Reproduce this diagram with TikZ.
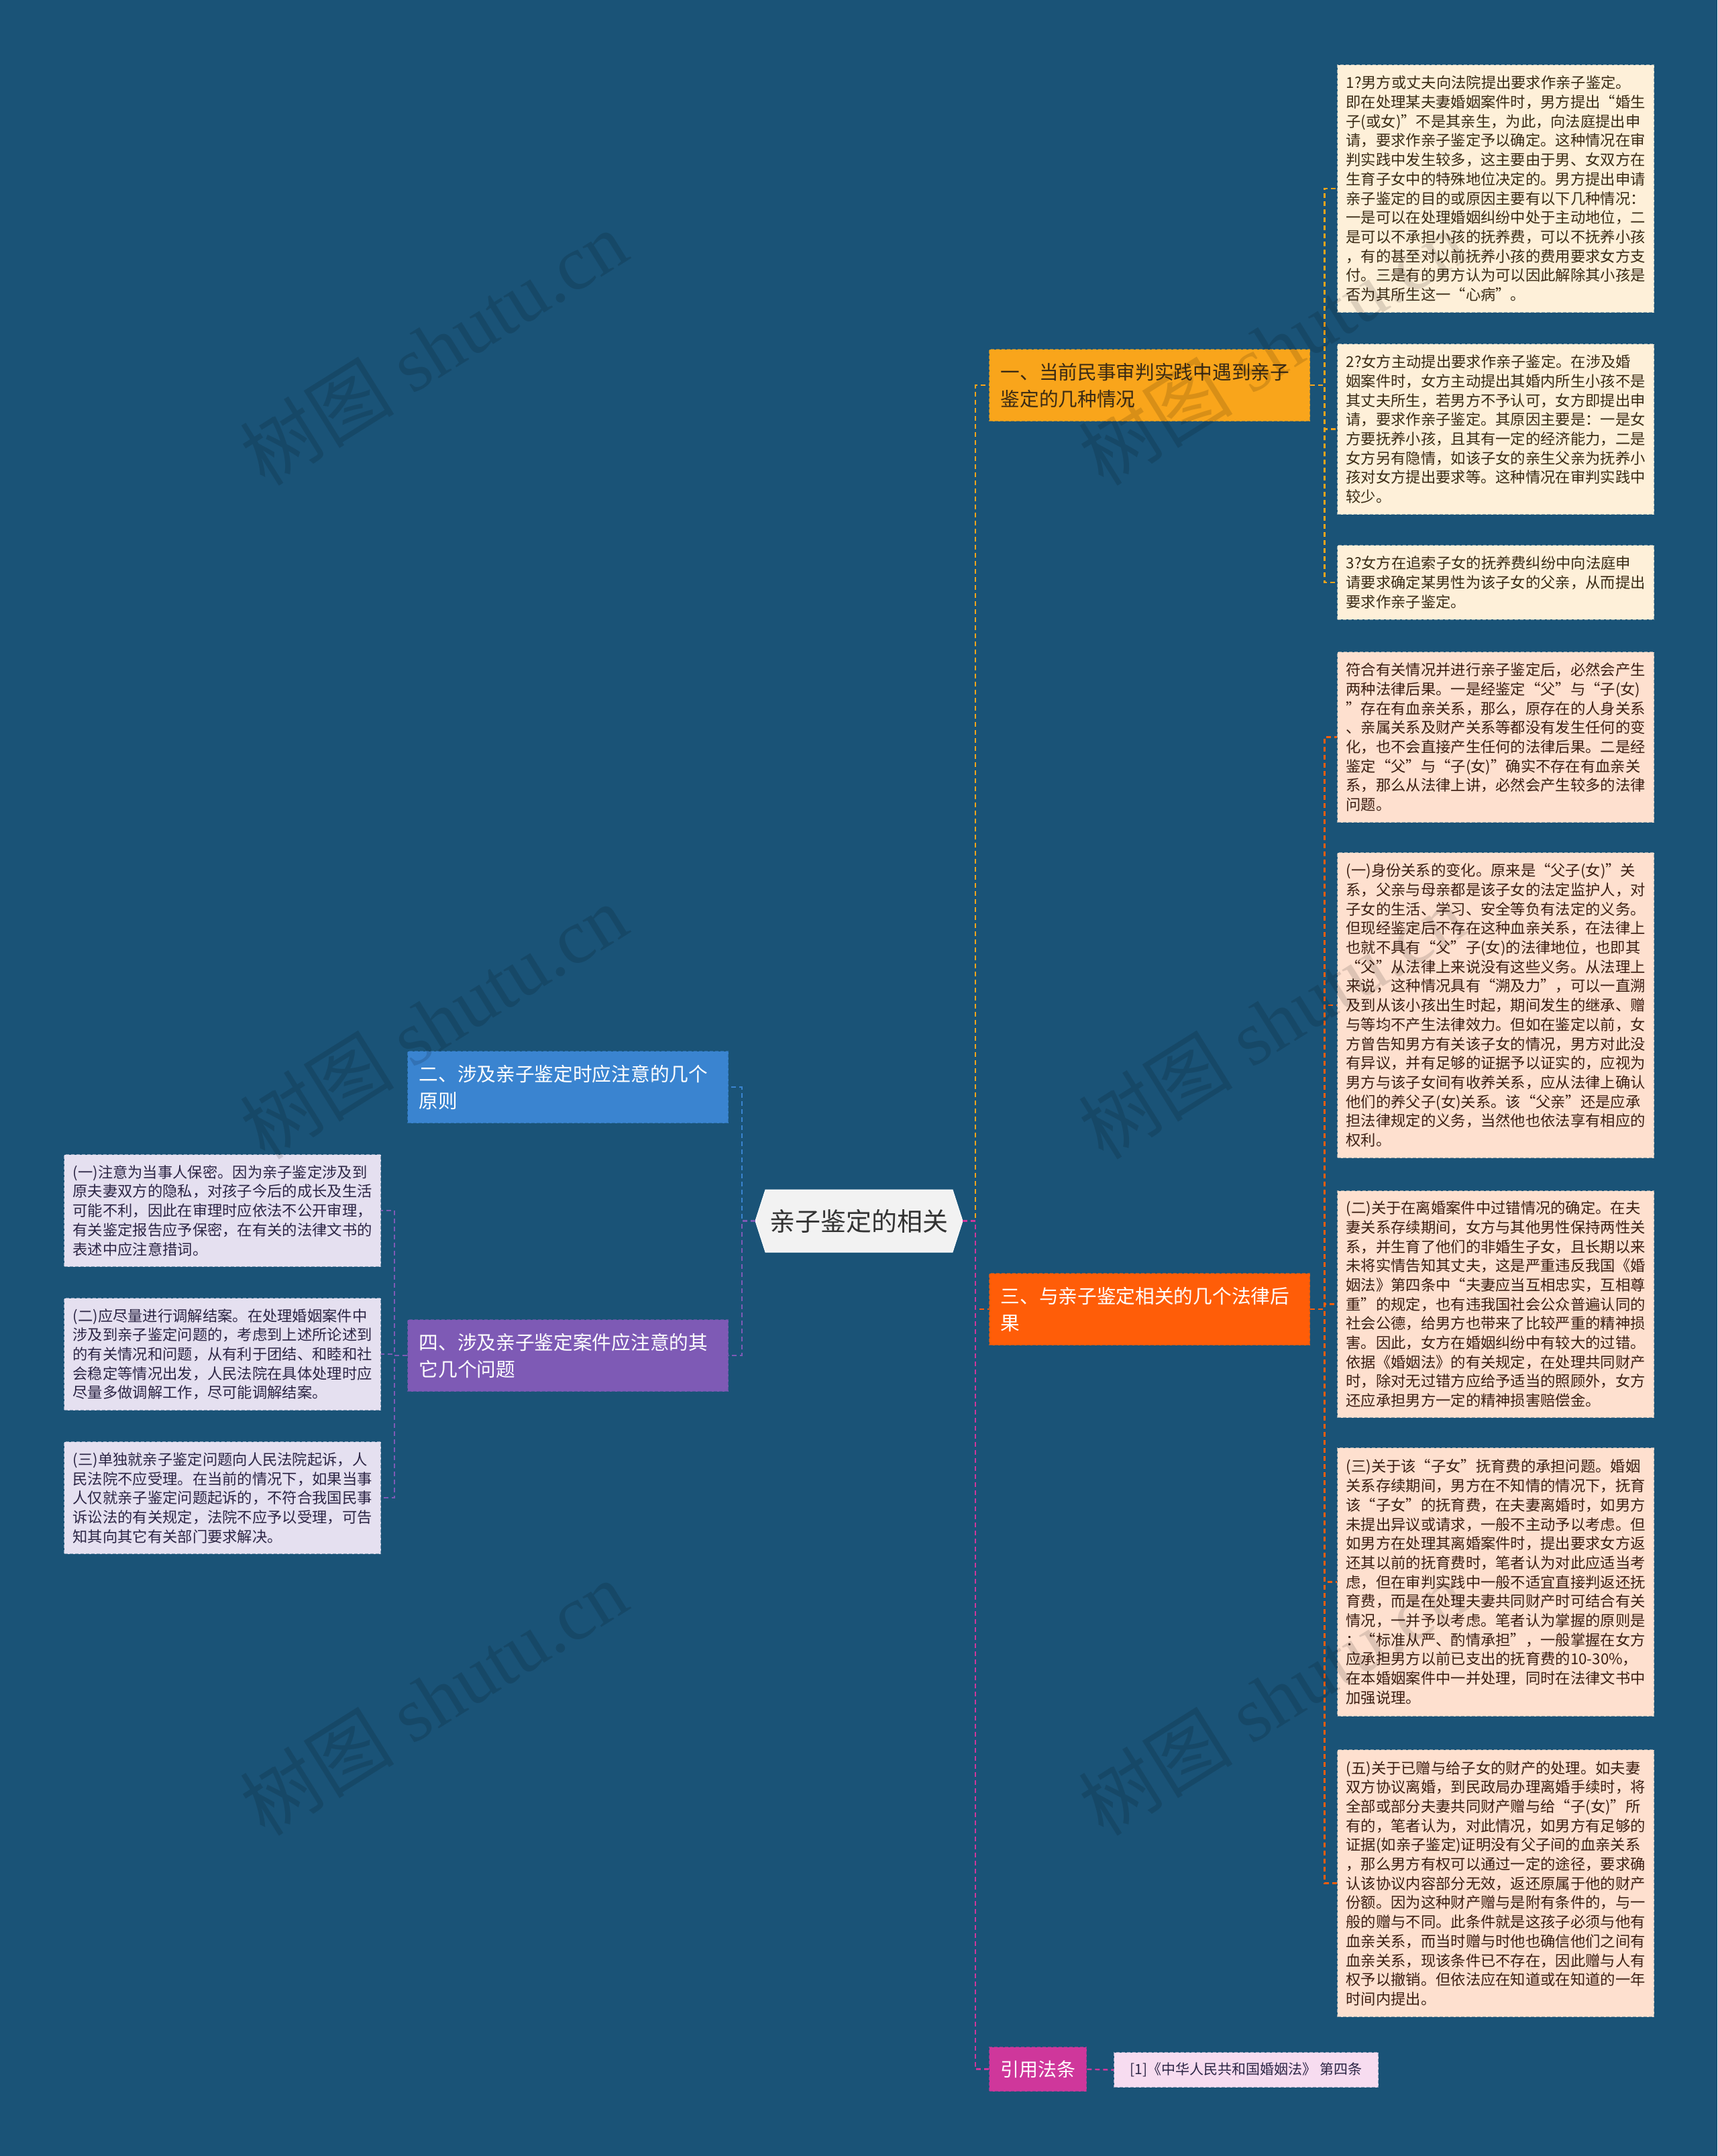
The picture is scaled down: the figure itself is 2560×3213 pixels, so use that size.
\documentclass[tikz,border=0pt]{standalone}
\usepackage{fontspec}
\setmainfont{Noto Sans CJK SC}
\newfontfamily\wmfont{Liberation Serif}
\usetikzlibrary{calc}

\definecolor{bg}{RGB}{26,83,119}
\definecolor{cOne}{RGB}{249,165,27}
\definecolor{cThree}{RGB}{255,93,8}
\definecolor{cTwo}{RGB}{58,132,208}
\definecolor{cFour}{RGB}{126,90,181}
\definecolor{cRef}{RGB}{207,55,155}
\definecolor{lfA}{RGB}{254,240,217}
\definecolor{lfB}{RGB}{254,224,207}
\definecolor{lfC}{RGB}{229,224,240}
\definecolor{lfD}{RGB}{247,220,240}
\definecolor{txA}{RGB}{58,42,20}
\definecolor{txB}{RGB}{60,30,18}
\definecolor{txC}{RGB}{44,37,69}
\definecolor{hexfill}{RGB}{242,242,242}

\tikzset{
  boxbase/.style={rectangle, anchor=north west, inner ysep=0pt, line width=1.3pt, dash pattern=on 5pt off 3pt},
  leafbase/.style={boxbase, inner xsep=13pt, text width=446pt, align=left, font=\fontsize{22.3}{28.7}\selectfont},
  leafA/.style={leafbase, fill=lfA, draw=lfA!55!bg, text=txA},
  leafB/.style={leafbase, fill=lfB, draw=lfB!55!bg, text=txB},
  leafC/.style={leafbase, fill=lfC, draw=lfC!55!bg, text=txC},
  branchbox/.style={boxbase, inner xsep=17pt, text width=444pt, align=left, minimum height=107pt, font=\fontsize{28.7}{40}\selectfont},
  conn/.style={line width=2.4pt, dash pattern=on 7pt off 5pt},
  wm/.style={font=\fontsize{115}{115}\selectfont, text=black, opacity=0.13, rotate=32},
}

\begin{document}
\begin{tikzpicture}[x=1pt,y=-1pt]
\useasboundingbox[fill=bg] (0,0) rectangle (2560,3213);

% centre hexagon
\fill[hexfill, draw=white, line width=1pt] (1126,1819.5) -- (1141,1773) -- (1420,1773) -- (1435,1819.5) -- (1420,1866) -- (1141,1866) -- cycle;
\node[font=\fontsize{38}{44}\selectfont, text=black!80, minimum width=309pt, minimum height=93pt, inner sep=0pt] (c) at (1280.5,1819.5) {亲子鉴定的相关};

% main branches
\node[branchbox, fill=cOne, draw=cOne!60!bg, text=txA] (b1) at (1474,520) {一、当前民事审判实践中遇到亲子\\鉴定的几种情况};
\node[branchbox, fill=cThree, draw=cThree!60!bg, text=white] (b3) at (1474,1897) {三、与亲子鉴定相关的几个法律后\\果};
\node[branchbox, fill=cTwo, draw=cTwo!60!bg, text=white] (b2) at (607,1566) {二、涉及亲子鉴定时应注意的几个\\原则};
\node[branchbox, fill=cFour, draw=cFour!60!bg, text=white] (b4) at (607,1966) {四、涉及亲子鉴定案件应注意的其\\它几个问题};
\node[boxbase, inner xsep=0pt, fill=cRef, draw=cRef!60!bg, text=white, minimum width=145pt, minimum height=66pt, font=\fontsize{28}{32}\selectfont] (yy) at (1474,3050) {引用法条};
\node[boxbase, inner xsep=0pt, fill=lfD, draw=lfD!55!bg, text=txC, minimum width=394pt, minimum height=52pt, font=\fontsize{21}{25}\selectfont] (ref) at (1660,3058) {[1]《中华人民共和国婚姻法》 第四条};

% leaves of branch one
\node[leafA, minimum height=369pt] (l1) at (1993,96) {1?男方或丈夫向法院提出要求作亲子鉴定。\\即在处理某夫妻婚姻案件时，男方提出“婚生\\子(或女)”不是其亲生，为此，向法庭提出申\\请，要求作亲子鉴定予以确定。这种情况在审\\判实践中发生较多，这主要由于男、女双方在\\生育子女中的特殊地位决定的。男方提出申请\\亲子鉴定的目的或原因主要有以下几种情况：\\一是可以在处理婚姻纠纷中处于主动地位，二\\是可以不承担小孩的抚养费，可以不抚养小孩\\，有的甚至对以前抚养小孩的费用要求女方支\\付。三是有的男方认为可以因此解除其小孩是\\否为其所生这一“心病”。};
\node[leafA, minimum height=254pt] (l2) at (1993,512) {2?女方主动提出要求作亲子鉴定。在涉及婚\\姻案件时，女方主动提出其婚内所生小孩不是\\其丈夫所生，若男方不予认可，女方即提出申\\请，要求作亲子鉴定。其原因主要是：一是女\\方要抚养小孩，且其有一定的经济能力，二是\\女方另有隐情，如该子女的亲生父亲为抚养小\\孩对女方提出要求等。这种情况在审判实践中\\较少。};
\node[leafA, minimum height=110.7pt] (l3) at (1993,812) {3?女方在追索子女的抚养费纠纷中向法庭申\\请要求确定某男性为该子女的父亲，从而提出\\要求作亲子鉴定。};

% leaves of branch three
\node[leafB, minimum height=254pt] (l4) at (1993,971) {符合有关情况并进行亲子鉴定后，必然会产生\\两种法律后果。一是经鉴定“父”与“子(女)\\”存在有血亲关系，那么，原存在的人身关系\\、亲属关系及财产关系等都没有发生任何的变\\化，也不会直接产生任何的法律后果。二是经\\鉴定“父”与“子(女)”确实不存在有血亲关\\系，那么从法律上讲，必然会产生较多的法律\\问题。};
\node[leafB, minimum height=455pt] (l5) at (1993,1270) {(一)身份关系的变化。原来是“父子(女)”关\\系，父亲与母亲都是该子女的法定监护人，对\\子女的生活、学习、安全等负有法定的义务。\\但现经鉴定后不存在这种血亲关系，在法律上\\也就不具有“父”子(女)的法律地位，也即其\\“父”从法律上来说没有这些义务。从法理上\\来说，这种情况具有“溯及力”，可以一直溯\\及到从该小孩出生时起，期间发生的继承、赠\\与等均不产生法律效力。但如在鉴定以前，女\\方曾告知男方有关该子女的情况，男方对此没\\有异议，并有足够的证据予以证实的，应视为\\男方与该子女间有收养关系，应从法律上确认\\他们的养父子(女)关系。该“父亲”还是应承\\担法律规定的义务，当然他也依法享有相应的\\权利。};
\node[leafB, minimum height=338pt] (l6) at (1993,1774) {(二)关于在离婚案件中过错情况的确定。在夫\\妻关系存续期间，女方与其他男性保持两性关\\系，并生育了他们的非婚生子女，且长期以来\\未将实情告知其丈夫，这是严重违反我国《婚\\姻法》第四条中“夫妻应当互相忠实，互相尊\\重”的规定，也有违我国社会公众普遍认同的\\社会公德，给男方也带来了比较严重的精神损\\害。因此，女方在婚姻纠纷中有较大的过错。\\依据《婚姻法》的有关规定，在处理共同财产\\时，除对无过错方应给予适当的照顾外，女方\\还应承担男方一定的精神损害赔偿金。};
\node[leafB, minimum height=400pt] (l7) at (1993,2157) {(三)关于该“子女”抚育费的承担问题。婚姻\\关系存续期间，男方在不知情的情况下，抚育\\该“子女”的抚育费，在夫妻离婚时，如男方\\未提出异议或请求，一般不主动予以考虑。但\\如男方在处理其离婚案件时，提出要求女方返\\还其以前的抚育费时，笔者认为对此应适当考\\虑，但在审判实践中一般不适宜直接判返还抚\\育费，而是在处理夫妻共同财产时可结合有关\\情况，一并予以考虑。笔者认为掌握的原则是\\：“标准从严、酌情承担”，一般掌握在女方\\应承担男方以前已支出的抚育费的10-30\%，\\在本婚姻案件中一并处理，同时在法律文书中\\加强说理。};
\node[leafB, minimum height=398pt] (l8) at (1993,2607) {(五)关于已赠与给子女的财产的处理。如夫妻\\双方协议离婚，到民政局办理离婚手续时，将\\全部或部分夫妻共同财产赠与给“子(女)”所\\有的，笔者认为，对此情况，如男方有足够的\\证据(如亲子鉴定)证明没有父子间的血亲关系\\，那么男方有权可以通过一定的途径，要求确\\认该协议内容部分无效，返还原属于他的财产\\份额。因为这种财产赠与是附有条件的，与一\\般的赠与不同。此条件就是这孩子必须与他有\\血亲关系，而当时赠与时他也确信他们之间有\\血亲关系，现该条件已不存在，因此赠与人有\\权予以撤销。但依法应在知道或在知道的一年\\时间内提出。};

% leaves of branch four
\node[leafC, minimum height=167pt] (m1) at (95,1720) {(一)注意为当事人保密。因为亲子鉴定涉及到\\原夫妻双方的隐私，对孩子今后的成长及生活\\可能不利，因此在审理时应依法不公开审理，\\有关鉴定报告应予保密，在有关的法律文书的\\表述中应注意措词。};
\node[leafC, minimum height=167pt] (m2) at (95,1934) {(二)应尽量进行调解结案。在处理婚姻案件中\\涉及到亲子鉴定问题的，考虑到上述所论述到\\的有关情况和问题，从有利于团结、和睦和社\\会稳定等情况出发，人民法院在具体处理时应\\尽量多做调解工作，尽可能调解结案。};
\node[leafC, minimum height=167pt] (m3) at (95,2148) {(三)单独就亲子鉴定问题向人民法院起诉，人\\民法院不应受理。在当前的情况下，如果当事\\人仅就亲子鉴定问题起诉的，不符合我国民事\\诉讼法的有关规定，法院不应予以受理，可告\\知其向其它有关部门要求解决。};

% connectors
\draw[conn, cOne] (c.east) -- ++(19,0) |- (b1.west);
\draw[conn, cThree] (c.east) -- ++(19,0) |- (b3.west);
\draw[conn, cRef] (c.east) -- ++(19,0) |- (yy.west);
\draw[conn, cRef] (yy.east) -- (ref.west);
\draw[conn, cTwo] (c.west) -- ++(-20,0) |- (b2.east);
\draw[conn, cFour] (c.west) -- ++(-20,0) |- (b4.east);
\foreach \n in {l1,l2,l3} \draw[conn, cOne] (b1.east) -- ++(21,0) |- (\n.west);
\foreach \n in {l4,l5,l6,l7,l8} \draw[conn, cThree] (b3.east) -- ++(21,0) |- (\n.west);
\foreach \n in {m1,m2,m3} \draw[conn, cFour] (b4.west) -- ++(-19,0) |- (\n.east);

% watermarks
\foreach \px/\py in {646/518, 646/1522, 646/2530, 1896/518, 1896/1522, 1896/2530}
  \node[wm] at (\px,\py) {树图{\wmfont\ shutu.cn}};
\end{tikzpicture}
\end{document}
